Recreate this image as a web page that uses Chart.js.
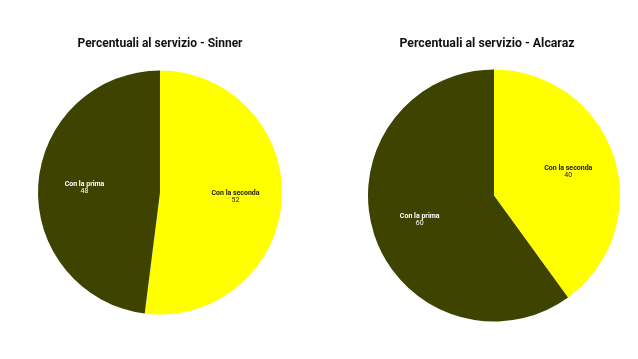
<!DOCTYPE html>
<html><head><meta charset="utf-8">
<script src="https://cdn.jsdelivr.net/npm/chart.js@4.4.1/dist/chart.umd.min.js"></script>
<style>
html,body{margin:0;padding:0;background:#fff;width:638px;height:359px;overflow:hidden;}
.box{position:absolute;top:0;height:359px;width:320px;}
</style></head><body>
<div class="box" style="left:0"><canvas id="c1"></canvas></div>
<div class="box" style="left:327px"><canvas id="c2"></canvas></div>
<script>
const categories = ['Con la seconda', 'Con la prima'];
const sinnerValues = [52, 48];
const alcarazValues = [40, 60];
const titles = ['Percentuali al servizio - Sinner', 'Percentuali al servizio - Alcaraz'];
const colors = ['#ffff00', '#3e4300'];
const textColors = ['#1a1a1a', '#ffffff'];

const sliceLabels = {
  id: 'sliceLabels',
  afterDatasetsDraw(chart) {
    const ctx = chart.ctx;
    const meta = chart.getDatasetMeta(0);
    meta.data.forEach((arc, i) => {
      const p = arc.getProps(['x','y','startAngle','endAngle','outerRadius']);
      const mid = (p.startAngle + p.endAngle) / 2;
      const d = p.outerRadius * 0.62;
      const x = p.x + Math.cos(mid) * d;
      const y = p.y + Math.sin(mid) * d;
      ctx.save();
      ctx.fillStyle = textColors[i];
      ctx.textAlign = 'center';
      ctx.textBaseline = 'middle';
      ctx.font = 'bold 7px Roboto';
      ctx.fillText(chart.data.labels[i], x, y - 3.5);
      ctx.font = '7px Roboto';
      ctx.fillText(String(chart.data.datasets[0].data[i]), x, y + 3.5);
      ctx.restore();
    });
  }
};

const canvasTitle = {
  id: 'canvasTitle',
  afterDraw(chart, args, opts) {
    const ctx = chart.ctx;
    ctx.save();
    ctx.fillStyle = '#111';
    ctx.textAlign = 'center';
    ctx.textBaseline = 'middle';
    ctx.font = 'bold ' + opts.size + 'px Roboto';
    ctx.fillText(opts.text, chart.width / 2, 44);
    ctx.restore();
  }
};

function makePie(id, values, title, radius, padding, titleSize) {
  new Chart(document.getElementById(id), {
    type: 'pie',
    data: { labels: categories, datasets: [{ data: values, backgroundColor: colors, borderWidth: 0, radius: radius }] },
    options: {
      responsive: true, maintainAspectRatio: false, animation: false,
      layout: { padding: padding },
      plugins: {
        legend: { display: false },
        tooltip: { enabled: false },
        title: { display: false },
        canvasTitle: { text: title, size: titleSize }
      }
    },
    plugins: [sliceLabels, canvasTitle]
  });
}
makePie('c1', sinnerValues, titles[0], 122, { left: 0, right: 0, top: 62, bottom: 36 }, 12);
makePie('c2', alcarazValues, titles[1], 126, { left: 14, right: 0, top: 62, bottom: 30 }, 12.3);
</script>
</body></html>
